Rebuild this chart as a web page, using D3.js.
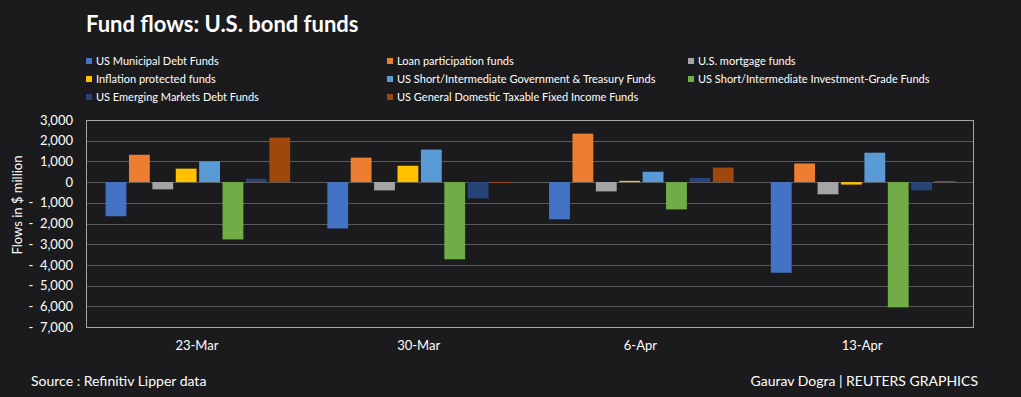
<!DOCTYPE html>
<html>
<head>
<meta charset="utf-8">
<script src="https://cdn.jsdelivr.net/npm/d3@7"></script>
<style>
  body { margin: 0; background: #1b1b1d; }
  svg { display: block; }
  text { font-family: Lato, "Open Sans", sans-serif; fill: #fff; }
</style>
</head>
<body>
<svg id="chart" width="1021" height="397"></svg>
<script>
var dates = ["23-Mar", "30-Mar", "6-Apr", "13-Apr"];
var seriesNames = [
  "US Municipal Debt Funds",
  "Loan participation funds",
  "U.S. mortgage funds",
  "Inflation protected funds",
  "US Short/Intermediate Government & Treasury Funds",
  "US Short/Intermediate Investment-Grade Funds",
  "US Emerging Markets Debt Funds",
  "US General Domestic Taxable Fixed Income Funds"
];
var colors = ["#4472c4", "#ed7d31", "#a5a5a5", "#ffc000", "#5b9bd5", "#70ad47", "#264478", "#9e480e"];

// values per series, one per date ($ million)
var municipal = [-1650, -2240, -1800, -4380];
var loan = [1320, 1180, 2340, 900];
var mortgage = [-350, -400, -450, -590];
var inflation = [650, 790, 60, -120];
var shortGov = [1000, 1570, 500, 1420];
var shortIG = [-2770, -3730, -1320, -6050];
var emerging = [160, -790, 200, -400];
var general = [2150, -40, 700, 50];
var yTicks = [3000, 2000, 1000, 0, -1000, -2000, -3000, -4000, -5000, -6000, -7000];

var allSeries = [municipal, loan, mortgage, inflation, shortGov, shortIG, emerging, general];

var svg = d3.select("#chart");
var margin = {top: 120, right: 48, bottom: 70, left: 86};
var width = 973 - margin.left;
var height = 327 - margin.top;

var x0 = d3.scaleBand().domain(dates).range([0, width]);
var x1 = d3.scaleBand().domain(d3.range(seriesNames.length)).range([17, x0.bandwidth() - 15]).padding(0.11);
var y = d3.scaleLinear().domain([-7000, 3000]).range([height, 0]);

// title
svg.append("text")
  .attr("x", 86).attr("y", 32)
  .style("font-size", "22px").style("font-weight", "bold")
  .text("Fund flows: U.S. bond funds");

// legend
var legendCols = [86, 387, 688];
var legend = svg.append("g");
seriesNames.forEach(function(name, i) {
  var lx = legendCols[i % 3];
  var ly = 61 + Math.floor(i / 3) * 18;
  legend.append("rect").attr("x", lx).attr("y", ly - 3).attr("width", 6).attr("height", 6).attr("fill", colors[i]);
  legend.append("text").attr("x", lx + 10).attr("y", ly + 4)
    .style("font-size", "11px").text(name);
});

var g = svg.append("g").attr("transform", "translate(" + margin.left + "," + margin.top + ")");

// grid
g.append("g")
  .selectAll("line").data(yTicks).enter().append("line")
  .attr("x1", 0).attr("x2", width)
  .attr("y1", function(d) { return Math.round(y(d)) + 0.5; })
  .attr("y2", function(d) { return Math.round(y(d)) + 0.5; })
  .attr("stroke", "#5a5a5a").attr("stroke-width", 1);

g.append("rect")
  .attr("x", 0.5).attr("y", 0.5).attr("width", width).attr("height", height)
  .attr("fill", "none").attr("stroke", "#a6a6a6");

// y axis labels
var yAxis = g.append("g")
  .call(d3.axisLeft(y).tickValues(yTicks).tickSize(0).tickPadding(13)
    .tickFormat(function(d) { return d < 0 ? "-\u00a0\u00a0" + d3.format(",")(-d) : d3.format(",")(d); }));
yAxis.select(".domain").remove();
yAxis.selectAll("text").style("font-size", "13px").attr("fill", "#fff");

svg.append("text")
  .attr("transform", "translate(22,205) rotate(-90)")
  .attr("text-anchor", "middle")
  .style("font-size", "13px")
  .text("Flows in $ million");

// bars
var groups = g.selectAll(".grp").data(dates).enter().append("g")
  .attr("transform", function(d) { return "translate(" + x0(d) + ",0)"; });

groups.selectAll("rect")
  .data(function(d, di) { return allSeries.map(function(s, si) { return {s: si, v: s[di]}; }); })
  .enter().append("rect")
  .attr("x", function(d) { return x1(d.s); })
  .attr("width", x1.bandwidth())
  .attr("y", function(d) { return y(Math.max(0, d.v)); })
  .attr("height", function(d) { return Math.abs(y(d.v) - y(0)); })
  .attr("fill", function(d) { return colors[d.s]; });

// x axis labels
var xAxis = g.append("g")
  .attr("transform", "translate(0," + height + ")")
  .call(d3.axisBottom(x0).tickSize(0).tickPadding(14));
xAxis.select(".domain").remove();
xAxis.selectAll("text").style("font-size", "13px").attr("fill", "#fff");

// footer
svg.append("text").attr("x", 31).attr("y", 386).style("font-size", "14px")
  .text("Source : Refinitiv Lipper data");
svg.append("text").attr("x", 978).attr("y", 386).attr("text-anchor", "end").style("font-size", "14px")
  .text("Gaurav Dogra | REUTERS GRAPHICS");
</script>
</body>
</html>
